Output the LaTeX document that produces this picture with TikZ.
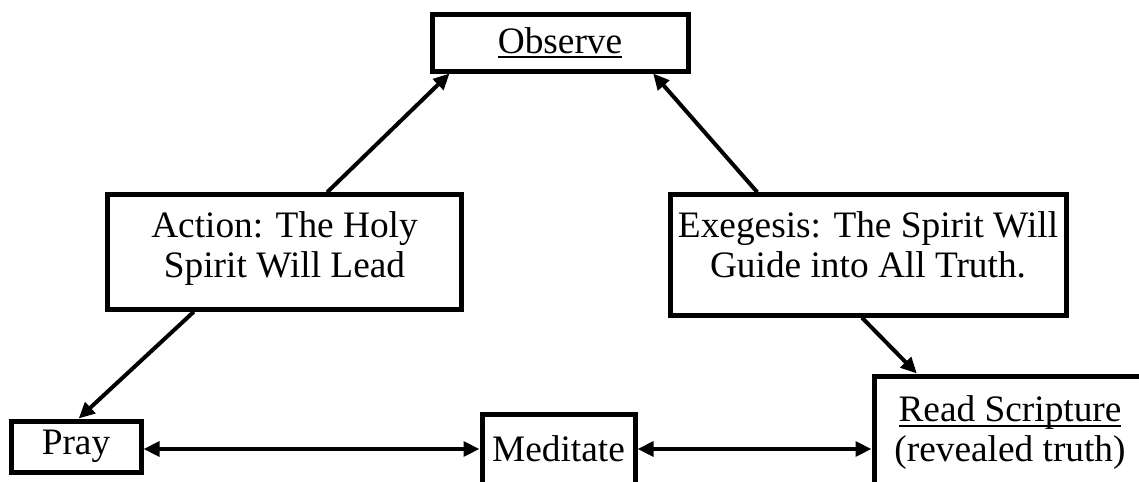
\documentclass[tikz,border=0pt]{standalone}
\usepackage{fontspec}
\setmainfont{Liberation Serif}
\usetikzlibrary{arrows.meta}
\newcommand{\ulword}[1]{\setbox0\hbox{#1}\rlap{\rule[-3.5pt]{\wd0}{1.5pt}}\box0}

\begin{document}
\begin{tikzpicture}[x=0.75pt,y=-0.75pt,
  box/.style={draw,line width=3.75pt,align=center,inner sep=0pt,font=\fontsize{28}{30}\selectfont},
  topbox/.style={box,inner ysep=12.4pt},
  conn/.style={line width=3pt,-{Triangle[length=12pt,width=11pt]}},
  both/.style={line width=3pt,{Triangle[length=12pt,width=11pt]}-{Triangle[length=12pt,width=11pt]}}]
\useasboundingbox (0,0) rectangle (1139,482);
\node[box,minimum width=192pt,minimum height=42.75pt] (observe) at (560,42.5) {\ulword{Observe}};
\node[topbox,minimum width=266pt,text depth=11.6pt] (action) at (284.5,252) {Action: The Holy\\Spirit Will Lead};
\node[topbox,minimum width=297pt,text depth=16.1pt] (exegesis) at (868,255) {Exegesis: The Spirit Will\\Guide into All Truth.};
\node[box,minimum width=97.5pt,minimum height=38.25pt] (pray) at (76,446.5) {Pray};
\node[box,minimum width=114.75pt,minimum height=52.5pt] (meditate) at (558.5,449) {Meditate};
\node[box,minimum width=204pt,minimum height=85.5pt] (scripture) at (1010,433) {\ulword{Read Scripture}\\(revealed truth)};

% the triangle
\draw[conn] ([xshift=32pt]action.north) -- ([xshift=15pt]observe.south west);
\draw[conn] ([xshift=-68pt]action.south) -- ([xshift=2pt]pray.north);
\draw[conn] ([xshift=-83pt]exegesis.north) -- ([xshift=-28pt]observe.south east);
\draw[conn] ([xshift=-4.5pt]exegesis.south) -- ([xshift=34pt]scripture.north west);

% bottom row
\draw[both] (pray.east |- meditate.west) -- (meditate.west);
\draw[both] (meditate.east) -- (meditate.east -| scripture.west);
\end{tikzpicture}
\end{document}
